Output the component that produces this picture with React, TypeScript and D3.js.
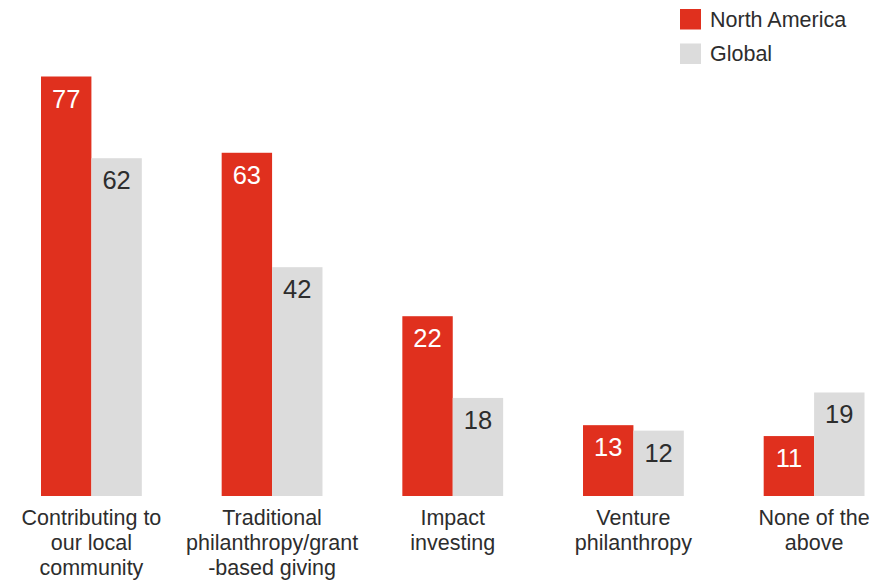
import * as d3 from "d3";
import { useEffect, useRef } from "react";

const categories = [
    ["Contributing to", "our local", "community"],
    ["Traditional", "philanthropy/grant", "-based giving"],
    ["Impact", "investing"],
    ["Venture", "philanthropy"],
    ["None of the", "above"],
];
const seriesNames = ["North America", "Global"];
// bar heights as drawn in the picture (the Impact investing bar is drawn taller than its label)
const northAmerica = [77, 63, 33, 13, 11];
const global = [62, 42, 18, 12, 19];
const northAmericaLabels = ["77", "63", "22", "13", "11"];
const globalLabels = ["62", "42", "18", "12", "19"];

const colors = ["#e0301e", "#dcdcdc"];
const labelColors = ["#ffffff", "#2d2d2d"];
const font = "'Liberation Sans', Arial, Helvetica, sans-serif";

export default function App() {
    const ref = useRef<SVGSVGElement | null>(null);
    const width = 891;
    const height = 580;

    useEffect(() => {
        if (!ref.current) return;
        const svg = d3.select(ref.current);
        svg.selectAll("*").remove();

        const keys = categories.map((_, i) => String(i));
        const x0 = d3.scaleBand().domain(keys).range([41, 864.5]).paddingInner(0.442).paddingOuter(0);
        const x1 = d3.scaleBand().domain(["0", "1"]).range([0, x0.bandwidth()]).padding(0);
        const y = d3.scaleLinear().domain([0, 77]).range([496, 76.5]);

        const values = [northAmerica, global];
        const labels = [northAmericaLabels, globalLabels];

        keys.forEach((k, i) => {
            const g = svg.append("g").attr("transform", `translate(${x0(k)},0)`);
            [0, 1].forEach(s => {
                const v = values[s][i];
                const bx = x1(String(s))!;
                g.append("rect")
                    .attr("x", bx)
                    .attr("y", y(v))
                    .attr("width", x1.bandwidth())
                    .attr("height", y(0) - y(v))
                    .attr("fill", colors[s]);
                g.append("text")
                    .attr("x", bx + x1.bandwidth() / 2)
                    .attr("y", y(v) + 31)
                    .attr("text-anchor", "middle")
                    .attr("font-family", font)
                    .attr("font-size", "25.5px")
                    .attr("fill", labelColors[s])
                    .text(labels[s][i]);
            });

            const t = svg.append("text")
                .attr("x", x0(k)! + x0.bandwidth() / 2)
                .attr("y", 525)
                .attr("text-anchor", "middle")
                .attr("font-family", font)
                .attr("font-size", "21.5px")
                .attr("fill", "#2d2d2d");
            categories[i].forEach((line, j) => {
                t.append("tspan")
                    .attr("x", x0(k)! + x0.bandwidth() / 2)
                    .attr("dy", j === 0 ? 0 : 25)
                    .text(line);
            });
        });

        // Legend
        seriesNames.forEach((name, s) => {
            svg.append("rect")
                .attr("x", 680)
                .attr("y", 9 + s * 34.5)
                .attr("width", 21)
                .attr("height", 20.5)
                .attr("fill", colors[s]);
            svg.append("text")
                .attr("x", 710)
                .attr("y", 26.5 + s * 34.5)
                .attr("font-family", font)
                .attr("font-size", "21.5px")
                .attr("fill", "#2d2d2d")
                .text(name);
        });
    }, []);

    return (
        <svg
            ref={ref}
            width={width}
            height={height}
            style={{ position: "absolute", left: 0, top: 0, background: "#ffffff" }}
        />
    );
}
